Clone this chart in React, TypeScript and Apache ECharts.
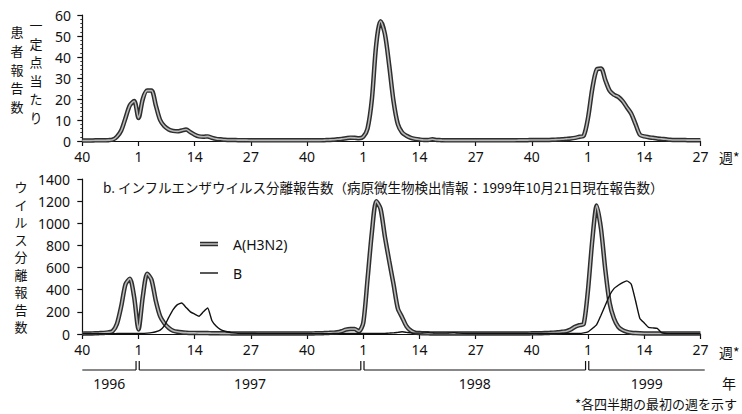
import React, { useEffect, useRef } from "react";
import * as echarts from "echarts";

// week tick labels (every 13 weeks, starting at week 40 of 1996)
const weekTickLabels = ["40", "1", "14", "27", "40", "1", "14", "27", "40", "1", "14", "27"];
const tickStep = 13;

// a. patients per sentinel site, weekly, 1996 wk40 .. 1999 wk27 (144 weeks)
const sentinelRate = [
  0.2, 0.2, 0.2, 0.3, 0.3, 0.3, 0.4, 0.6, 2, 5, 11, 17, 19,
  11, 20, 24, 24, 17, 10, 7, 5.5, 4.8, 4.6, 5, 5.5, 4.2,
  3, 2.2, 2, 2.2, 1.5, 1, 0.8, 0.6, 0.5, 0.5, 0.4, 0.4, 0.4,
  0.3, 0.3, 0.3, 0.3, 0.3, 0.3, 0.3, 0.3, 0.3, 0.3, 0.3, 0.3, 0.3,
  0.3, 0.3, 0.3, 0.3, 0.4, 0.5, 0.6, 0.8, 1, 1.3, 1.6, 1.5, 1.3,
  2, 6, 20, 46, 57, 51, 36, 19, 8, 4, 2.5, 1.5, 1,
  0.7, 0.5, 0.5, 0.8, 0.5, 0.4, 0.3, 0.3, 0.3, 0.3, 0.3, 0.3, 0.3,
  0.3, 0.3, 0.3, 0.3, 0.3, 0.3, 0.3, 0.3, 0.3, 0.3, 0.4, 0.4, 0.4,
  0.5, 0.5, 0.5, 0.5, 0.5, 0.6, 0.7, 0.8, 1, 1.2, 1.5, 2, 2.5,
  11, 25, 34, 34.5, 29, 24, 22, 21, 19, 16, 13, 8, 3,
  2.2, 1.8, 1.5, 1.2, 1, 0.8, 0.6, 0.5, 0.5, 0.5, 0.4, 0.4, 0.4,
  0.4,
];

// b. virus isolation reports, A(H3N2)
const isolatesAH3N2 = [
  3, 4, 5, 6, 8, 10, 15, 25, 90, 250, 450, 500, 330,
  40, 340, 545, 490, 300, 160, 95, 55, 30, 20, 15, 12, 10,
  10, 8, 8, 8, 7, 7, 6, 6, 6, 5, 5, 5, 5,
  5, 5, 5, 5, 5, 5, 5, 5, 5, 5, 5, 5, 5,
  5, 5, 6, 6, 8, 10, 12, 15, 25, 40, 45, 45, 25,
  100, 500, 920, 1200, 1130, 880, 660, 450, 230, 150, 70, 30, 12,
  8, 6, 6, 5, 5, 5, 5, 5, 5, 5, 5, 5, 5,
  5, 5, 5, 5, 5, 5, 5, 5, 5, 5, 5, 5, 5,
  6, 6, 7, 8, 10, 12, 15, 20, 25, 40, 65, 80, 90,
  400, 850, 1160, 950, 580, 280, 140, 65, 35, 20, 12, 8, 6,
  5, 5, 5, 5, 5, 4, 4, 4, 4, 4, 4, 4, 4,
  4,
];

// b. virus isolation reports, B
const isolatesB = [
  2, 2, 2, 2, 2, 3, 3, 3, 4, 5, 5, 5, 5,
  5, 5, 8, 12, 20, 35, 75, 150, 220, 265, 280, 240, 200,
  180, 160, 200, 235, 120, 70, 40, 25, 15, 10, 6, 5, 4,
  4, 4, 3, 3, 3, 3, 3, 3, 3, 3, 3, 3, 3,
  3, 3, 3, 3, 3, 3, 4, 4, 4, 5, 5, 5, 5,
  5, 5, 5, 5, 5, 6, 8, 10, 15, 20, 15, 10, 8,
  8, 10, 12, 10, 8, 8, 8, 10, 12, 8, 6, 5, 5,
  4, 4, 4, 4, 4, 4, 4, 4, 4, 4, 4, 4, 4,
  4, 4, 4, 4, 4, 4, 4, 5, 5, 5, 5, 5, 10,
  20, 50, 85, 170, 260, 350, 410, 440, 465, 480, 450, 300, 140,
  100, 60, 55, 50, 12, 5, 3, 3, 3, 3, 3, 3, 3,
  3,
];

const years = ["1996", "1997", "1998", "1999"];
const yearFirstWeekIndex = [0, 13, 65, 117];
const lastWeekIndex = 143;

const FONT = "'Noto Sans', 'Noto Sans CJK JP', sans-serif";
const JFONT = "'Noto Sans CJK JP', 'Noto Sans', sans-serif";

const pairs = (arr: number[]) => arr.map((v, i) => [i, v]);
const tickValues = weekTickLabels.map((_, i) => i * tickStep);

function xAxisFor(gridIndex: number) {
  return {
    type: "value",
    gridIndex,
    min: -1,
    max: lastWeekIndex,
    axisLine: { show: true, onZero: false, lineStyle: { color: "#111", width: 1.2 } },
    axisTick: { show: true, customValues: tickValues, length: 5, lineStyle: { color: "#111", width: 1.2 } },
    axisLabel: {
      show: true,
      customValues: tickValues,
      formatter: (v: number) => weekTickLabels[Math.round(v / tickStep)] ?? "",
      margin: 8,
      color: "#111",
      fontSize: 14,
      fontFamily: FONT,
    },
    splitLine: { show: false },
  };
}

export default function App() {
  const ref = useRef<HTMLDivElement>(null);
  useEffect(() => {
    const chart = echarts.init(ref.current!, null, { renderer: "svg" });
    const option: any = {
      animation: false,
      backgroundColor: "#fff",
      grid: [
        { left: 78, top: 15, width: 622.4, height: 126 },
        { left: 78, top: 179, width: 622.4, height: 155 },
      ],
      xAxis: [xAxisFor(0), xAxisFor(1)],
      yAxis: [
        {
          type: "value",
          gridIndex: 0,
          min: 0,
          max: 60,
          interval: 10,
          axisLine: { show: true, lineStyle: { color: "#111", width: 1.2 } },
          axisTick: { show: true, length: 5, lineStyle: { color: "#111", width: 1.2 } },
          minorTick: { show: true, splitNumber: 5, length: 2, lineStyle: { color: "#333" } },
          axisLabel: { margin: 7, color: "#111", fontSize: 14, fontFamily: FONT, formatter: (v: number) => String(v) },
          splitLine: { show: false },
        },
        {
          type: "value",
          gridIndex: 1,
          min: 0,
          max: 1400,
          interval: 200,
          axisLine: { show: true, lineStyle: { color: "#111", width: 1.2 } },
          axisTick: { show: true, length: 5, lineStyle: { color: "#111", width: 1.2 } },
          axisLabel: { margin: 8, color: "#111", fontSize: 14, fontFamily: FONT, formatter: (v: number) => String(v) },
          splitLine: { show: false },
        },
      ],
      series: [
        {
          type: "line", xAxisIndex: 0, yAxisIndex: 0, data: pairs(sentinelRate),
          showSymbol: false, smooth: 0.3, z: 2,
          lineStyle: { color: "#2e2e2e", width: 4.5 },
        },
        {
          type: "line", xAxisIndex: 0, yAxisIndex: 0, data: pairs(sentinelRate),
          showSymbol: false, smooth: 0.3, z: 3,
          lineStyle: { color: "#b8b8b8", width: 1.6 },
        },
        {
          type: "line", name: "A(H3N2)", xAxisIndex: 1, yAxisIndex: 1, data: pairs(isolatesAH3N2),
          showSymbol: false, smooth: 0.25, z: 2,
          lineStyle: { color: "#2e2e2e", width: 4.5 },
        },
        {
          type: "line", xAxisIndex: 1, yAxisIndex: 1, data: pairs(isolatesAH3N2),
          showSymbol: false, smooth: 0.25, z: 3,
          lineStyle: { color: "#b8b8b8", width: 1.6 },
        },
        {
          type: "line", name: "B", xAxisIndex: 1, yAxisIndex: 1, data: pairs(isolatesB),
          showSymbol: false, smooth: 0.15, z: 4,
          lineStyle: { color: "#111", width: 1.4 },
        },
      ],
    };
    chart.setOption(option);

    const toX = (v: number) => chart.convertToPixel({ xAxisIndex: 1 } as any, v) as unknown as number;
    const y0 = chart.convertToPixel({ yAxisIndex: 1 } as any, 0) as unknown as number;
    const bracketY = y0 + 36;
    const gap = 1.6;
    const graphics: any[] = [];
    const lineStyle = { stroke: "#111", lineWidth: 1.2 };
    years.forEach((yr, i) => {
      const startX = i === 0 ? toX(yearFirstWeekIndex[0]) : toX(yearFirstWeekIndex[i] - 0.2) + gap;
      const endX = i === years.length - 1 ? toX(lastWeekIndex + 1) : toX(yearFirstWeekIndex[i + 1] - 0.2) - gap;
      graphics.push({ type: "line", shape: { x1: startX, y1: bracketY, x2: endX, y2: bracketY }, style: lineStyle });
      if (i > 0) graphics.push({ type: "line", shape: { x1: startX, y1: bracketY, x2: startX, y2: bracketY - 9 }, style: lineStyle });
      if (i < years.length - 1) graphics.push({ type: "line", shape: { x1: endX, y1: bracketY, x2: endX, y2: bracketY - 9 }, style: lineStyle });
      graphics.push({
        type: "text", x: (startX + endX) / 2, y: bracketY + 13,
        style: { text: yr, fill: "#111", fontSize: 14, fontFamily: FONT, textAlign: "center", textVerticalAlign: "middle" },
      });
    });

    const txt = (text: string, x: number, y: number, extra: any = {}) => ({
      type: "text", x, y,
      style: { text, fill: "#111", fontSize: 14, fontFamily: JFONT, textVerticalAlign: "middle", ...extra },
    });

    graphics.push(
      txt("一\n定\n点\n当\nた\nり", 36, 15.5, { textAlign: "center", textVerticalAlign: "top", lineHeight: 18.5, fontSize: 13 }),
      txt("患\n者\n報\n告\n数", 17, 22.5, { textAlign: "center", textVerticalAlign: "top", lineHeight: 18.7, fontSize: 13 }),
      txt("ウ\nイ\nル\nス\n分\n離\n報\n告\n数", 21, 178, { textAlign: "center", textVerticalAlign: "top", lineHeight: 17.5, fontSize: 13 }),
      txt("b. インフルエンザウイルス分離報告数（病原微生物検出情報：1999年10月21日現在報告数）", 103, 187, { fontSize: 13.5 }),
      txt("週*", 719, 157),
      txt("週*", 719, 352),
      txt("年", 722, 383),
      txt("*各四半期の最初の週を示す", 737, 403, { textAlign: "right", fontSize: 13 }),
      { type: "line", shape: { x1: 200, y1: 244, x2: 218, y2: 244 }, style: { stroke: "#2e2e2e", lineWidth: 4.5 } },
      { type: "line", shape: { x1: 200, y1: 244, x2: 218, y2: 244 }, style: { stroke: "#b8b8b8", lineWidth: 1.6 } },
      txt("A(H3N2)", 233, 244, { fontFamily: FONT }),
      { type: "line", shape: { x1: 200, y1: 273, x2: 218, y2: 273 }, style: { stroke: "#111", lineWidth: 1.4 } },
      txt("B", 233, 273, { fontFamily: FONT }),
    );

    chart.setOption({ graphic: graphics });
    return () => chart.dispose();
  }, []);
  return <div ref={ref} style={{ position: "fixed", left: 0, top: 0, width: 742, height: 414 }} />;
}
